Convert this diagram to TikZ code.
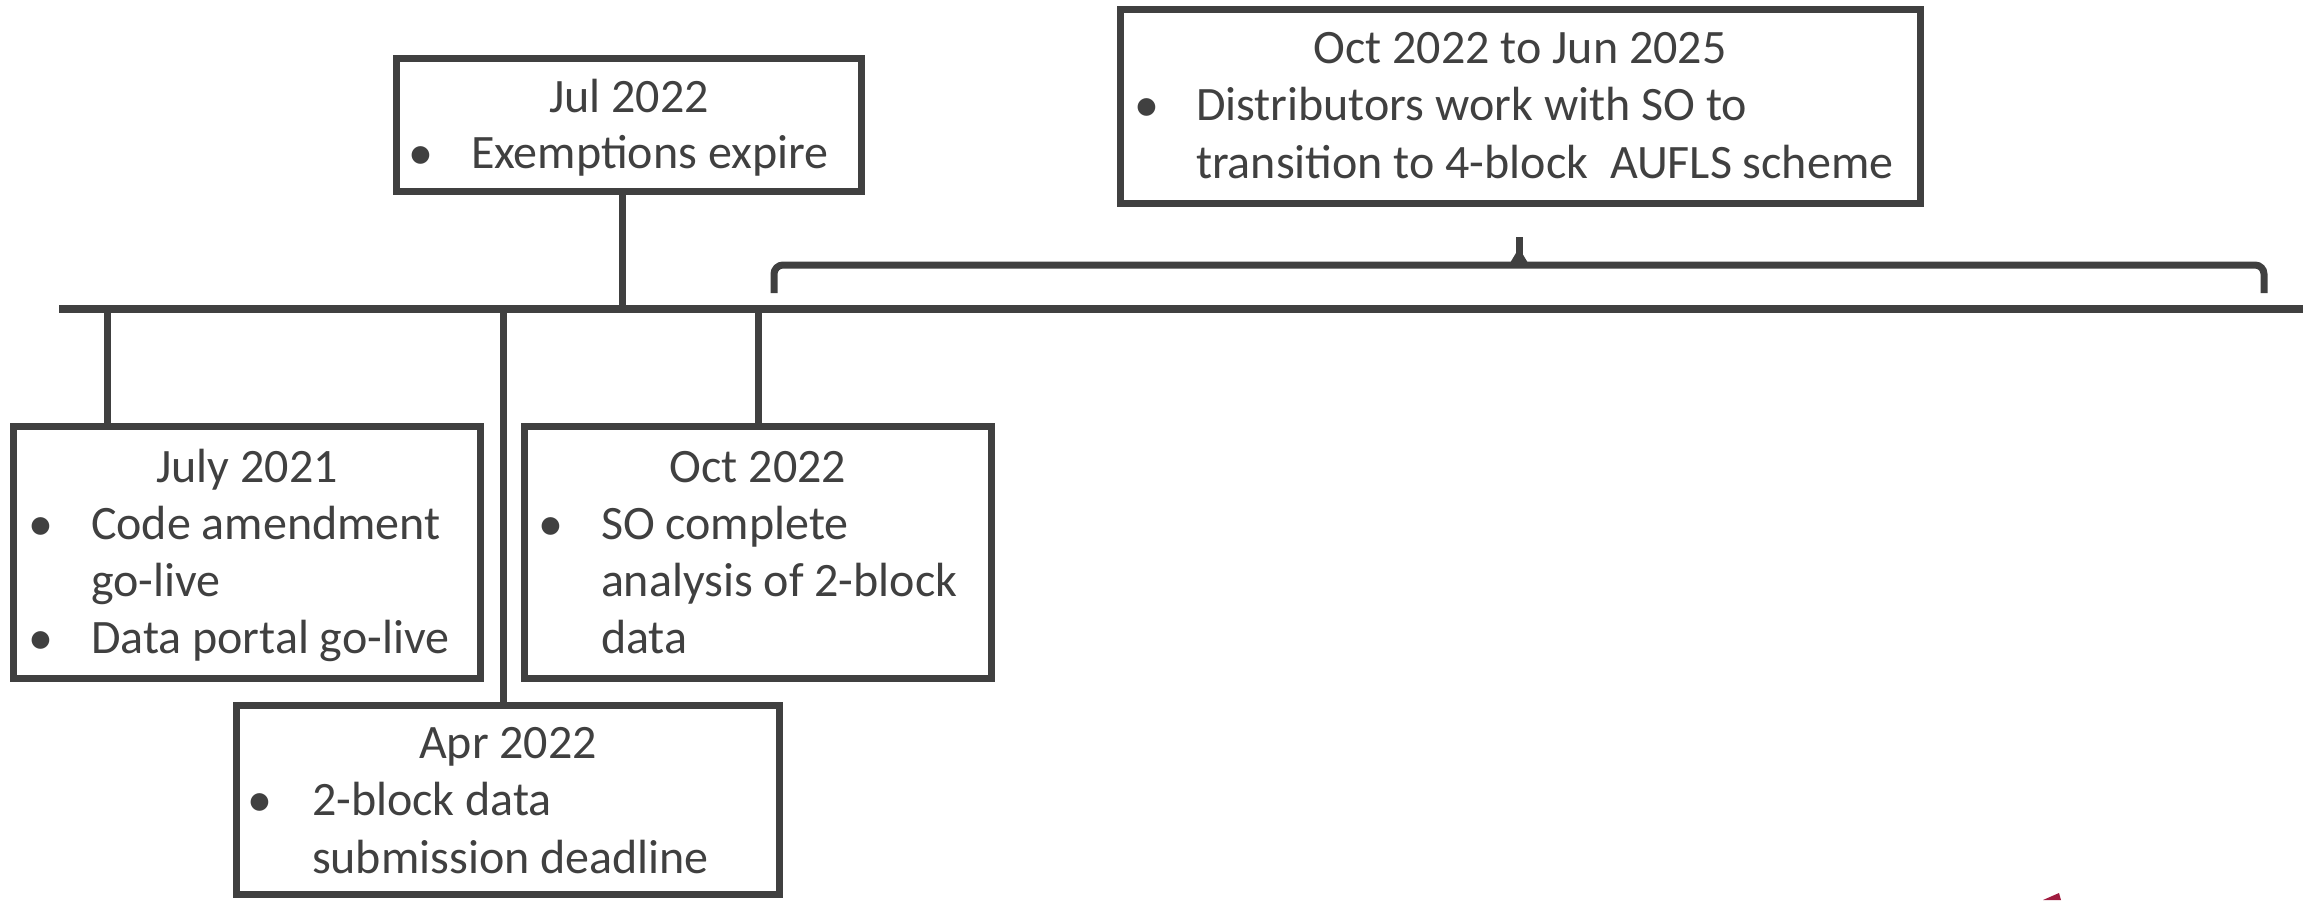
\documentclass[tikz,border=0pt]{standalone}
\usepackage{fontspec}
\setmainfont{Carlito}
\definecolor{dk}{HTML}{404040}
\definecolor{crim}{HTML}{A01C40}
\begin{document}
\begin{tikzpicture}[x=1pt,y=-1pt,
  every node/.style={inner sep=0pt, outer sep=0pt},
  box/.style={draw=dk, line width=7pt, rectangle, fill=white},
  conn/.style={draw=dk, line width=7pt},
  txt/.style={text=dk, font=\fontsize{48}{57}\selectfont, anchor=base west},
  ttl/.style={text=dk, font=\fontsize{48}{57}\selectfont, anchor=base},
  bul/.style={text=dk, font=\fontsize{50}{57}\selectfont, anchor=base}]
\useasboundingbox (0,0) rectangle (2313,900);

% timeline
\coordinate (tl0) at (59,309);
\coordinate (tl1) at (2303,309);
\draw[dk, line width=8pt] (tl0) -- (tl1);

% boxes
\node[box, minimum width=465pt, minimum height=133pt] (jul) at (629,125) {};
\node[box, minimum width=800pt, minimum height=194pt] (range) at (1520.5,106.5) {};
\node[box, minimum width=467pt, minimum height=252pt] (j21) at (247,552.5) {};
\node[box, minimum width=467pt, minimum height=252pt] (oct) at (758,552.5) {};
\node[box, minimum width=543pt, minimum height=189pt] (apr) at (508,800) {};

% connectors
\coordinate (cJul) at (622,309);
\coordinate (cJ21) at (107,309);
\coordinate (cOct) at (758,309);
\coordinate (cApr) at (503,309);
\draw[conn] (jul.south -| cJul) -- (cJul);
\draw[conn] (cJ21) -- (j21.north -| cJ21);
\draw[conn] (cOct) -- (oct.north -| cOct);
\draw[conn] (cApr) -- (apr.north -| cApr);

% brace
\coordinate (brL) at (774,293);
\coordinate (brR) at (2264,293);
\coordinate (brT) at (1519,237);
\draw[dk, line width=7pt, rounded corners=9pt] (brL) -- (774,265) -- (2264,265) -- (brR);
\draw[dk, line width=7pt] (1519,266) -- (brT);
\fill[dk] (1510,263) -- (1519,248) -- (1528,263) -- cycle;

% texts: Jul 2022
\node[ttl] (julT) at (629,112) {Jul 2022};
\node[bul] (julB) at (421,169) {•};
\node[txt] (julA) at (471,168) {Exemptions expire};

% Oct 2022 to Jun 2025
\node[ttl] (rngT) at (1520,63) {Oct 2022 to Jun 2025};
\node[bul] (rngB) at (1147,121) {•};
\node[txt] (rngA) at (1196,120) {Distributors work with SO to};
\node[txt] (rngC) at (1196,178) {transition to 4-block\ \ AUFLS scheme};

% July 2021
\node[ttl] (j21T) at (247,482) {July 2021};
\node[bul] (j21B1) at (40.5,540) {•};
\node[txt] (j21A) at (91,539) {Code amendment};
\node[txt] (j21C) at (91,596) {go-live};
\node[bul] (j21B2) at (40.5,654) {•};
\node[txt] (j21D) at (91,653) {Data portal go-live};

% Oct 2022
\node[ttl] (octT) at (758,482) {Oct 2022};
\node[bul] (octB) at (551,540) {•};
\node[txt] (octA) at (601,539) {SO complete};
\node[txt] (octC) at (601,596) {analysis of 2-block};
\node[txt] (octD) at (601,653) {data};

% Apr 2022
\node[ttl] (aprT) at (508,758) {Apr 2022};
\node[bul] (aprB) at (260,816) {•};
\node[txt] (aprA) at (312,815) {2-block data};
\node[txt] (aprC) at (312,873) {submission deadline};

% small red mark at bottom edge
\fill[crim] (2043,900) -- (2059,893) -- (2061,900) -- cycle;
\end{tikzpicture}
\end{document}
